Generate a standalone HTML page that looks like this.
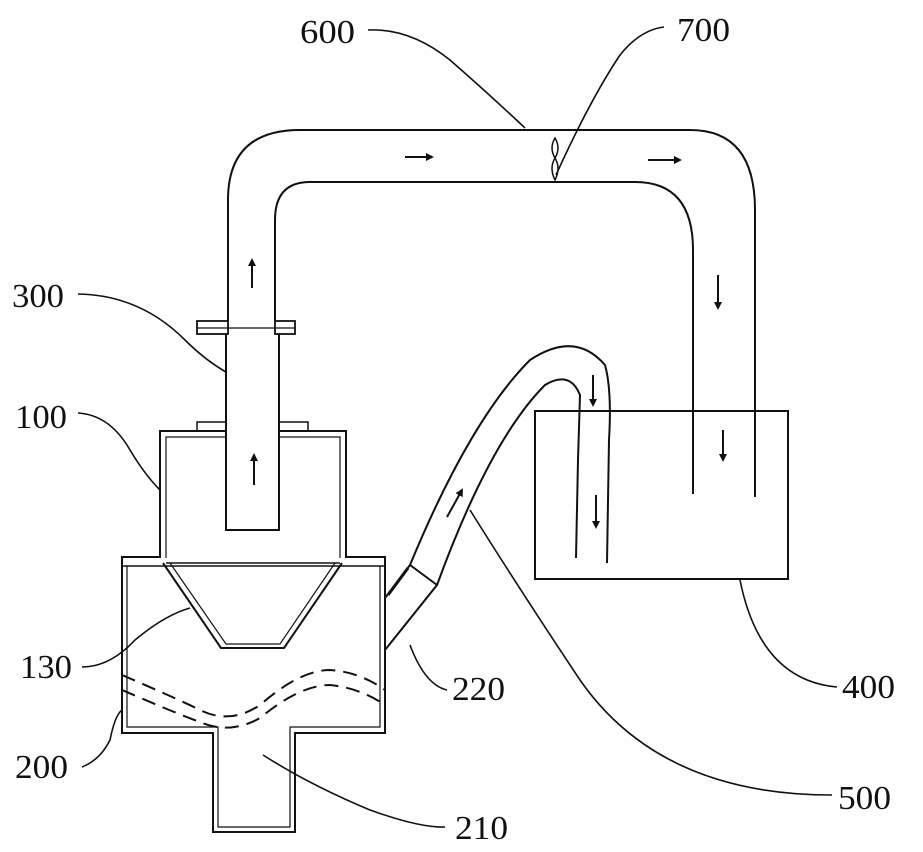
<!DOCTYPE html>
<html><head><meta charset="utf-8"><style>
html,body{margin:0;padding:0;background:#fff;}
svg{display:block;}
text{font-family:"Liberation Serif",serif;font-size:34px;fill:#111;}
</style></head><body>
<svg width="923" height="852" viewBox="0 0 923 852" xmlns="http://www.w3.org/2000/svg">
<defs>
<marker id="ah" markerWidth="8" markerHeight="8" refX="6" refY="4" orient="auto" markerUnits="userSpaceOnUse">
<path d="M0,0 L8,4 L0,8 Z" fill="#111"/></marker>
</defs>
<g fill="none" stroke="#111" stroke-width="2">
<path d="M228,321 L228,200 Q228,130 300,130 L690,130 Q755,130 755,210 L755,497"/>
<path d="M275,321 L275,220 Q275,182 310,182 L635,182 Q693,182 693,250 L693,494"/>
<path d="M555,138 Q549,148 555,158 Q561,168 555,180 Q549,168 555,158 Q561,148 555,138 Z" stroke-width="1.5"/>
<rect x="197" y="321" width="31" height="13" stroke-width="1.8"/>
<rect x="275" y="321" width="20" height="13" stroke-width="1.8"/>
<line x1="197" y1="328" x2="295" y2="328" stroke-width="1.2"/>
<path d="M226,334 L226,530 L279,530 L279,334"/>
<path d="M160,558 L160,431 L226,431 M279,431 L346,431 L346,558"/>
<path d="M166,558 L166,437 L226,437 M279,437 L340,437 L340,558" stroke-width="1.2"/>
<rect x="197" y="422" width="29" height="9" stroke-width="1.5"/>
<rect x="279" y="422" width="29" height="9" stroke-width="1.5"/>
<path d="M160,557 L122,557 L122,733 L213,733 L213,832 L295,832 L295,733 L385,733 L385,557 L346,557"/>
<path d="M127,566 L127,727 L218,727 L218,827 L290,827 L290,727 L380,727 L380,566" stroke-width="1.2"/>
<line x1="122" y1="566" x2="385" y2="566" stroke-width="1.5"/>
<line x1="166" y1="563" x2="340" y2="563" stroke-width="1.5"/>
<path d="M163,563 L221,648 L284,648 L342,563"/>
<path d="M170,563 L226,644 L280,644 L335,563" stroke-width="1.2"/>
<path d="M122,675 Q180,700 200,710 Q230,725 260,705 Q300,670 330,670 Q360,672 385,690" stroke-dasharray="14,8"/>
<path d="M122,690 Q180,715 200,722 Q230,735 260,718 Q300,685 330,685 Q360,688 385,705" stroke-dasharray="14,8"/>
<path d="M385,598 L410,565 L437,585 L385,650"/>
<line x1="388" y1="595" x2="408" y2="568" stroke-width="3"/>
<path d="M410,565 Q470,420 530,360 Q575,330 605,365 Q612,390 609,440 L607,563"/>
<path d="M437,585 Q490,440 545,385 Q570,370 580,395 L578,460 L576,558"/>
<rect x="535" y="411" width="253" height="168"/>
</g>
<g stroke="#111" stroke-width="2" marker-end="url(#ah)">
<line x1="405" y1="157" x2="432" y2="157"/>
<line x1="648" y1="160" x2="680" y2="160"/>
<line x1="252" y1="288" x2="252" y2="260"/>
<line x1="254" y1="485" x2="254" y2="455"/>
<line x1="718" y1="275" x2="718" y2="308"/>
<line x1="723" y1="430" x2="723" y2="460"/>
<line x1="593" y1="375" x2="593" y2="405"/>
<line x1="596" y1="495" x2="596" y2="527"/>
<line x1="447" y1="517" x2="462" y2="490"/>
</g>
<g fill="none" stroke="#111" stroke-width="1.6">
<path d="M368,30 Q410,28 450,60 Q490,95 525,128"/>
<path d="M664,27 Q640,30 620,55 Q590,100 556,175"/>
<path d="M78,294 Q140,295 185,340 Q205,360 226,372"/>
<path d="M78,413 Q110,415 130,450 Q145,475 160,490"/>
<path d="M82,667 Q110,667 135,640 Q165,615 190,608"/>
<path d="M82,767 Q100,760 110,740 Q115,715 122,710"/>
<path d="M447,690 Q425,685 410,645"/>
<path d="M837,687 Q760,680 740,580"/>
<path d="M832,795 Q660,795 580,680 Q520,590 470,510"/>
<path d="M445,827 Q420,828 370,810 Q310,785 263,755"/>
</g>
<g>
<text x="300" y="43" textLength="55" lengthAdjust="spacingAndGlyphs">600</text>
<text x="677" y="41" textLength="53" lengthAdjust="spacingAndGlyphs">700</text>
<text x="12" y="307" textLength="52" lengthAdjust="spacingAndGlyphs">300</text>
<text x="15" y="428" textLength="52" lengthAdjust="spacingAndGlyphs">100</text>
<text x="20" y="678" textLength="52" lengthAdjust="spacingAndGlyphs">130</text>
<text x="452" y="700" textLength="53" lengthAdjust="spacingAndGlyphs">220</text>
<text x="842" y="698" textLength="53" lengthAdjust="spacingAndGlyphs">400</text>
<text x="15" y="778" textLength="53" lengthAdjust="spacingAndGlyphs">200</text>
<text x="838" y="809" textLength="53" lengthAdjust="spacingAndGlyphs">500</text>
<text x="455" y="839" textLength="53" lengthAdjust="spacingAndGlyphs">210</text>
</g>
</svg>
</body></html>
